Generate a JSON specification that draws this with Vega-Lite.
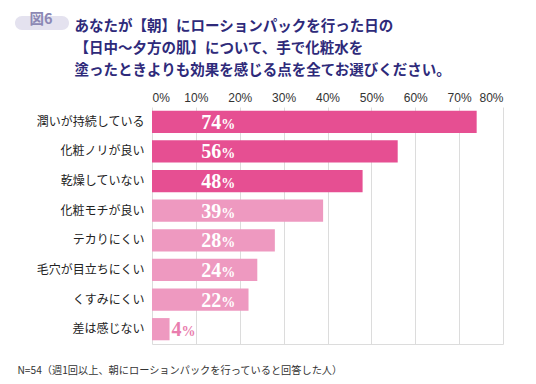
{
  "$schema": "https://vega.github.io/schema/vega-lite/v6.json",
  "autosize": {"type": "none"},
  "padding": {"left": 152, "top": 107, "right": 33, "bottom": 40},
  "width": 351,
  "height": 237,
  "background": "#ffffff",
  "data": {
    "values": [
      {"item": "潤いが持続している", "value": 74},
      {"item": "化粧ノリが良い", "value": 56},
      {"item": "乾燥していない", "value": 48},
      {"item": "化粧モチが良い", "value": 39},
      {"item": "テカりにくい", "value": 28},
      {"item": "毛穴が目立ちにくい", "value": 24},
      {"item": "くすみにくい", "value": 22},
      {"item": "差は感じない", "value": 4}
    ]
  },
  "encoding": {
    "y": {
      "field": "item",
      "type": "nominal",
      "sort": null,
      "scale": {"paddingInner": 0.25, "paddingOuter": 0.125},
      "axis": {
        "title": ["あなたが【朝】にローションパックを行った日の", "【日中〜夕方の肌】について、手で化粧水を", "塗ったときよりも効果を感じる点を全てお選びください。"],
        "titleAngle": 0,
        "titleX": -78,
        "titleY": -76.5,
        "titleAlign": "left",
        "titleAnchor": "start",
        "titleBaseline": "alphabetic",
        "titleFont": "Noto Sans CJK JP",
        "titleFontSize": 14.5,
        "titleFontWeight": "bold",
        "titleColor": "#2E2A7A",
        "titleLineHeight": 22,
        "ticks": false,
        "domain": false,
        "labelFont": "Noto Sans CJK JP",
        "labelFontSize": 12,
        "labelColor": "#222222",
        "labelPadding": 8,
        "labelLimit": 300
      }
    }
  },
  "layer": [
    {
      "layer": [
        {
          "mark": {"type": "bar"},
          "encoding": {
            "x": {
              "field": "value",
              "type": "quantitative",
              "scale": {"domain": [0, 80], "nice": false},
              "axis": {
                "orient": "top",
                "title": null,
                "values": [0, 10, 20, 30, 40, 50, 60, 70, 80],
                "labelExpr": "datum.value + '%'",
                "ticks": false,
                "domain": false,
                "grid": true,
                "gridColor": "#DCDCDC",
                "gridWidth": 1,
                "labelFont": "Liberation Sans",
                "labelFontSize": 12,
                "labelColor": "#333333",
                "labelPadding": 3
              }
            },
            "color": {
              "field": "item",
              "type": "nominal",
              "sort": null,
              "scale": {
                "domain": ["潤いが持続している", "化粧ノリが良い", "乾燥していない", "化粧モチが良い", "テカりにくい", "毛穴が目立ちにくい", "くすみにくい", "差は感じない"],
                "range": ["#E64F92", "#E64F92", "#E64F92", "#EE99C0", "#EE99C0", "#EE99C0", "#EE99C0", "#EE99C0"]
              },
              "legend": {
                "title": "\u2800図6\u2800",
                "orient": "none",
                "legendX": -137,
                "legendY": -91,
                "direction": "horizontal",
                "titleOrient": "left",
                "titleFont": "Noto Sans CJK JP",
                "titleFontSize": 14.5,
                "titleFontWeight": "bold",
                "titleColor": "#8C88B4",
                "titlePadding": 0,
                "fillColor": "#E4E2EF",
                "cornerRadius": 10.5,
                "padding": 3.5,
                "symbolSize": 0,
                "symbolOpacity": 0,
                "symbolStrokeWidth": 0,
                "labelExpr": "''",
                "labelFontSize": 1,
                "labelOffset": 0,
                "columnPadding": 0,
                "values": ["潤いが持続している"]
              }
            }
          }
        },
        {
          "transform": [{"filter": "datum.value >= 10"}],
          "mark": {"type": "text", "align": "right", "baseline": "alphabetic", "dy": 7, "font": "Liberation Serif", "fontWeight": "bold", "fontSize": 20, "color": "#ffffff"},
          "encoding": {
            "x": {"datum": 15.8, "type": "quantitative", "title": null},
            "text": {"field": "value", "type": "nominal"}
          }
        },
        {
          "transform": [{"filter": "datum.value >= 10"}],
          "mark": {"type": "text", "align": "left", "baseline": "alphabetic", "dy": 7, "font": "Liberation Serif", "fontWeight": "bold", "fontSize": 14, "color": "#ffffff"},
          "encoding": {
            "x": {"datum": 15.8, "type": "quantitative", "title": null},
            "text": {"value": "%"}
          }
        },
        {
          "transform": [{"filter": "datum.value < 10"}],
          "mark": {"type": "text", "align": "left", "baseline": "alphabetic", "dx": 2, "dy": 7, "font": "Liberation Serif", "fontWeight": "bold", "fontSize": 20, "color": "#E97DAE"},
          "encoding": {
            "x": {"field": "value", "type": "quantitative", "title": null},
            "text": {"field": "value", "type": "nominal"}
          }
        }
      ]
    },
    {
      "transform": [{"filter": "datum.value < 10"}],
      "mark": {"type": "text", "align": "left", "baseline": "alphabetic", "dx": 12, "dy": 7, "font": "Liberation Serif", "fontWeight": "bold", "fontSize": 14, "color": "#E97DAE"},
      "encoding": {
        "x": {
          "field": "value",
          "type": "quantitative",
          "scale": {"domain": [0, 80], "nice": false},
          "axis": {
            "orient": "bottom",
            "labels": false,
            "ticks": false,
            "grid": false,
            "domain": true,
            "domainColor": "#DCDCDC",
            "domainWidth": 1,
            "title": "N=54（週1回以上、朝にローションパックを行っていると回答した人）",
            "titleFont": "Noto Sans CJK JP",
            "titleFontSize": 10.2,
            "titleFontWeight": "normal",
            "titleColor": "#333333",
            "titleAnchor": "start",
            "titleAlign": "left",
            "titleBaseline": "middle",
            "titleX": -135,
            "titleY": 26
          }
        },
        "text": {"value": "%"}
      }
    }
  ],
  "resolve": {"axis": {"x": "independent"}},
  "config": {
    "view": {"stroke": null},
    "bar": {"cornerRadius": 0}
  }
}
